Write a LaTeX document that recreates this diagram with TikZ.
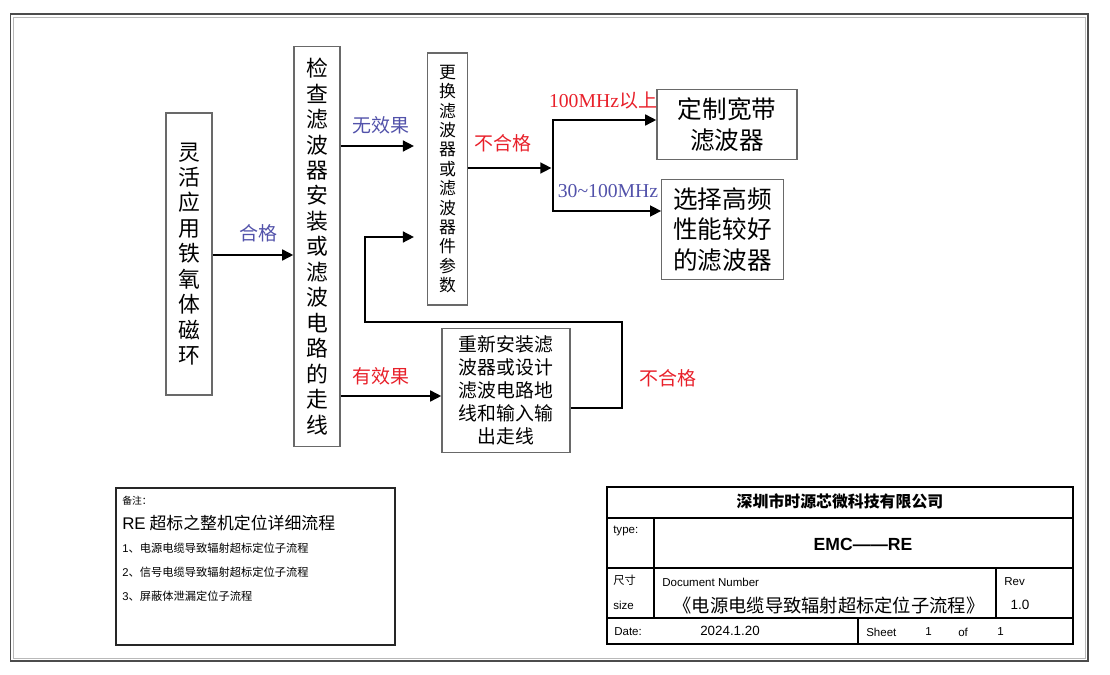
\documentclass[tikz,border=0pt]{standalone}
\usepackage{fontspec}
\setmainfont{Liberation Serif}
\setsansfont{Liberation Sans}
\newfontfamily\cjk{Noto Sans CJK SC}
\usetikzlibrary{arrows.meta}

\definecolor{okblue}{RGB}{82,82,170}
\definecolor{ngred}{RGB}{232,32,42}
\definecolor{boxgray}{RGB}{105,105,105}

\begin{document}
\begin{tikzpicture}[
	x=0.025cm, y=-0.025cm,
	flowbox/.style  = {rectangle, draw=boxgray, line width=0.8pt, inner sep=0pt, align=center},
	bigcol/.style   = {flowbox, font=\cjk\fontsize{15.5}{18.1}\selectfont},
	thincol/.style  = {flowbox, font=\cjk\fontsize{12}{13.8}\selectfont},
	result/.style   = {flowbox, font=\cjk\fontsize{17.5}{21.8}\selectfont},
	rework/.style   = {flowbox, font=\cjk\fontsize{13.4}{16.3}\selectfont},
	flow/.style     = {-{Triangle[length=8pt,width=7.5pt]}, line width=2.1pt},
	lbl/.style      = {inner sep=0pt, font=\cjk\fontsize{13.5}{16}\selectfont},
	good/.style     = {text=okblue},
	bad/.style      = {text=ngred},
	note/.style     = {anchor=west, inner sep=0pt, font=\cjk\fontsize{8}{10}\selectfont},
	tblk/.style     = {line width=1.3pt},
	cell/.style     = {anchor=west, inner sep=0pt, font=\sffamily\fontsize{8.2}{10}\selectfont}
	]
	\useasboundingbox (0,0) rectangle (1110,675);
	
	% ===================== Sheet frame =====================
	\draw[gray!60!black, line width=1.1pt] (10.5,14) rectangle (1088,661);
	\draw[gray!55, line width=0.7pt] (13.5,17) rectangle (1085,658);
	
	% ===================== Flow boxes =====================
	\node[bigcol, minimum width=1.15cm, minimum height=7.05cm] (ring) at (189,254)
		{灵\\活\\应\\用\\铁\\氧\\体\\磁\\环};
	\node[bigcol, minimum width=1.15cm, minimum height=9.98cm] (chk) at (317,246.5)
		{检\\查\\滤\\波\\器\\安\\装\\或\\滤\\波\\电\\路\\的\\走\\线};
	\node[thincol, minimum width=0.98cm, minimum height=6.3cm] (swap) at (447.5,179)
		{更\\换\\滤\\波\\器\\或\\滤\\波\\器\\件\\参\\数};
	\node[result, minimum width=3.5cm, minimum height=1.73cm] (cust) at (727,124.5)
		{定制宽带\\滤波器};
	\node[result, minimum width=3.03cm, minimum height=2.48cm] (pick) at (722.5,229.5)
		{选择高频\\性能较好\\的滤波器};
	\node[rework, minimum width=3.2cm, minimum height=3.08cm] (redo) at (506,390.5)
		{重新安装滤\\波器或设计\\滤波电路地\\线和输入输\\出走线};
	
	% ===================== Connectors =====================
	\draw[flow] (ring.east |- 0,255) -- (chk.west |- 0,255);
	\draw[flow, shorten >=0.33cm] (chk.east |- 0,146) -- (swap.west |- 0,146);
	\draw[flow] (chk.east |- 0,396) -- (redo.west |- 0,396);
	
	\coordinate (split) at (553,168);
	\draw[flow] (swap.east |- split) -- ([xshift=-1pt]split);
	\draw[flow] ([yshift=-1pt]split) |- (cust.west |- 0,120);
	\draw[flow] ([yshift=1pt]split) |- (pick.west |- 0,211);
	
	\draw[flow, shorten >=0.33cm] (redo.east |- 0,408) -- (622,408) |- (365,322) |- (swap.west |- 0,237);
	
	% ===================== Labels =====================
	\node[lbl, good] (lOk)   at (258,233) {合格};
	\node[lbl, good] (lNone) at (381,125) {无效果};
	\node[lbl, bad]  (lSome) at (381,376) {有效果};
	\node[lbl, bad]  (lFail) at (503,143) {不合格};
	\node[lbl, bad]  (lHigh) at (603,100) {{\rmfamily\fontsize{14}{16}\selectfont 100MHz}以上};
	\node[lbl, good, font=\rmfamily\fontsize{14}{16}\selectfont] (lMid) at (608,191) {30\textasciitilde100MHz};
	\node[lbl, bad]  (lBack) at (668,378) {不合格};
	
	% ===================== Notes =====================
	\draw[black!85, line width=0.9pt] (116,488) rectangle (395,645);
	\node[note, font=\cjk\fontsize{7}{9}\selectfont] (nHead) at (122,501) {备注：};
	\node[note, font=\cjk\fontsize{12}{14}\selectfont] (nTitle) at (122,523) {{\sffamily RE} 超标之整机定位详细流程};
	\node[note] (n1) at (122,548) {{\sffamily 1}、电源电缆导致辐射超标定位子流程};
	\node[note] (n2) at (122,572) {{\sffamily 2}、信号电缆导致辐射超标定位子流程};
	\node[note] (n3) at (122,596) {{\sffamily 3}、屏蔽体泄漏定位子流程};
	
	% ===================== Title block =====================
	\draw[tblk] (607,487) rectangle (1073,644);
	\draw[tblk] (607,518) -- (1073,518);
	\draw[tblk] (607,568) -- (1073,568);
	\draw[tblk] (607,618) -- (1073,618);
	\draw[tblk] (654,518) -- (654,618);
	\draw[tblk] (996,568) -- (996,618);
	\draw[tblk] (858,618) -- (858,644);
	
	\node[inner sep=0pt, font=\cjk\bfseries\fontsize{11.3}{13}\selectfont] (corp) at (840,501) {深圳市时源芯微科技有限公司};
	\node[cell] (tType) at (613,531) {type:};
	\node[inner sep=0pt, font=\sffamily\bfseries\fontsize{12.5}{14}\selectfont] (tEmc) at (863,544) {EMC——RE};
	\node[cell, font=\cjk\fontsize{8}{10}\selectfont] (tSize) at (613,580) {尺寸};
	\node[cell] (tSizeEn) at (613,605) {size};
	\node[cell] (tDoc) at (662,582) {Document Number};
	\node[inner sep=0pt, font=\cjk\fontsize{13}{15}\selectfont] (tName) at (829,606) {《电源电缆导致辐射超标定位子流程》};
	\node[cell] (tRev) at (1004,582) {Rev};
	\node[inner sep=0pt, font=\sffamily\fontsize{9.6}{11}\selectfont] (tRevNo) at (1020,605) {1.0};
	\node[cell] (tDate) at (614,632) {Date:};
	\node[inner sep=0pt, font=\sffamily\fontsize{9.5}{11}\selectfont] (tDay) at (730,631) {2024.1.20};
	\node[cell] (tSheet) at (866,632) {Sheet};
	\node[cell] (tOne) at (925,632) {1};
	\node[cell] (tOf) at (958,632) {of};
	\node[cell] (tAll) at (997,632) {1};
	
\end{tikzpicture}
\end{document}
